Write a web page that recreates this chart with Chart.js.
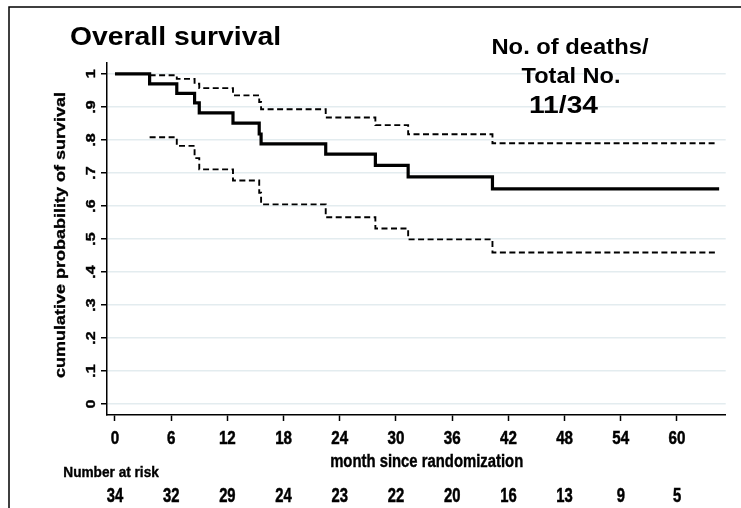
<!DOCTYPE html>
<html>
<head>
<meta charset="utf-8">
<script src="https://cdn.jsdelivr.net/npm/chart.js@4/dist/chart.umd.min.js"></script>
<style>
  html, body { margin: 0; padding: 0; background: #fff; }
  #wrap { width: 741px; height: 508px; position: relative; }
</style>
</head>
<body>
<div id="wrap"><canvas id="c" width="741" height="508"></canvas></div>
<script>
// ---- data ----
const xTicks = [0, 6, 12, 18, 24, 30, 36, 42, 48, 54, 60];
const yTicks = [0, 0.1, 0.2, 0.3, 0.4, 0.5, 0.6, 0.7, 0.8, 0.9, 1];
const yTickLabels = ['0', '.1', '.2', '.3', '.4', '.5', '.6', '.7', '.8', '.9', '1'];
const atRisk = [34, 32, 29, 24, 23, 22, 20, 16, 13, 9, 5];

const deathTimes = [3.7, 6.6, 8.5, 9.0, 12.6, 15.4, 15.6, 22.5, 27.8, 31.3, 40.3];
const survival   = [0.970, 0.941, 0.912, 0.882, 0.851, 0.818, 0.788, 0.757, 0.723, 0.688, 0.652];
const upperCI    = [0.996, 0.985, 0.970, 0.957, 0.935, 0.915, 0.893, 0.868, 0.845, 0.817, 0.790];
const lowerCI    = [0.808, 0.782, 0.745, 0.711, 0.677, 0.640, 0.605, 0.566, 0.532, 0.499, 0.459];
const lastFollowUp = 64.5;
const lastFollowUpCI = 64.3;

const titleText = 'Overall survival';
const annotLines = ['No. of deaths/', 'Total No.', '11/34'];
const xTitle = 'month since randomization';
const yTitle = 'cumulative probability of survival';
const riskTitle = 'Number at risk';

// ---- build series ----
const kmPoints = [{x: 0, y: 1}].concat(deathTimes.map((t, i) => ({x: t, y: survival[i]})));
kmPoints.push({x: lastFollowUp, y: survival[survival.length - 1]});
const upPoints = deathTimes.map((t, i) => ({x: t, y: upperCI[i]}));
upPoints.push({x: lastFollowUpCI, y: upperCI[upperCI.length - 1]});
const loPoints = deathTimes.map((t, i) => ({x: t, y: lowerCI[i]}));
loPoints.push({x: lastFollowUpCI, y: lowerCI[lowerCI.length - 1]});

const FONT = '"Liberation Sans", Arial, Helvetica, sans-serif';
function txt(ctx, s, x, y, size, sx, align, rot, heavy) {
  ctx.save();
  ctx.translate(x, y);
  ctx.scale(sx, 1);
  if (rot) ctx.rotate(rot);
  ctx.font = 'bold ' + size + 'px ' + FONT;
  ctx.textAlign = align;
  ctx.textBaseline = 'alphabetic';
  ctx.fillStyle = '#000';
  ctx.fillText(s, 0, 0);
  if (heavy) {
    ctx.strokeStyle = '#000';
    ctx.lineWidth = heavy;
    ctx.strokeText(s, 0, 0);
  }
  ctx.restore();
}

const textPlugin = {
  id: 'texts',
  afterDraw(chart) {
    const ctx = chart.ctx;
    const xs = chart.scales.x, ys = chart.scales.y;
    // outer frame (top and left visible)
    ctx.save();
    ctx.strokeStyle = '#000';
    ctx.lineWidth = 1.5;
    ctx.beginPath();
    ctx.moveTo(9, 520); ctx.lineTo(9, 7); ctx.lineTo(760, 7);
    ctx.stroke();
    ctx.restore();

    txt(ctx, titleText, 70, 45, 26, 1.09, 'left');
    txt(ctx, annotLines[0], 570, 54.3, 22, 1.08, 'center');
    txt(ctx, annotLines[1], 571, 83.3, 22, 1.07, 'center');
    txt(ctx, annotLines[2], 563.5, 113, 23.5, 1.2, 'center');

    xTicks.forEach((t, i) => {
      const px = xs.getPixelForValue(t);
      txt(ctx, String(t), px, 443.5, 18.5, 0.82, 'center', 0, 0.5);
      txt(ctx, String(atRisk[i]), px, 501.5, 20, 0.74, 'center', 0, 0.5);
    });
    yTicks.forEach((v, i) => {
      const py = ys.getPixelForValue(v);
      txt(ctx, yTickLabels[i], 95, py, 16, 0.8, 'center', -Math.PI / 2, 0.5);
    });
    txt(ctx, xTitle, 426.7, 467, 18, 0.825, 'center', 0, 0.4);
    txt(ctx, yTitle, 65, 235, 18, 0.8, 'center', -Math.PI / 2, 0.4);
    txt(ctx, riskTitle, 63.3, 476.5, 15.5, 0.88, 'left', 0, 0.4);
  }
};

new Chart(document.getElementById('c'), {
  type: 'line',
  data: {
    datasets: [
      { label: 'upper', data: upPoints, stepped: 'before', borderColor: '#000', borderWidth: 1.9,
        borderDash: [6, 3.5], pointRadius: 0, fill: false, order: 2 },
      { label: 'lower', data: loPoints, stepped: 'before', borderColor: '#000', borderWidth: 1.9,
        borderDash: [6, 3.5], pointRadius: 0, fill: false, order: 2 },
      { label: 'survival', data: kmPoints, stepped: 'before', borderColor: '#000', borderWidth: 3.2,
        pointRadius: 0, fill: false, order: 1 }
    ]
  },
  options: {
    responsive: false,
    devicePixelRatio: 1,
    animation: false,
    events: [],
    layout: { padding: { left: 101, top: 63, right: 15.3, bottom: 87 } },
    plugins: { legend: { display: false }, tooltip: { enabled: false } },
    scales: {
      x: {
        type: 'linear', min: -0.85, max: 65.2,
        afterBuildTicks: s => { s.ticks = xTicks.map(v => ({value: v})); },
        ticks: { display: false },
        grid: { drawOnChartArea: false, drawTicks: true, tickLength: 6, tickColor: '#000', tickWidth: 1.5 },
        border: { display: true, color: '#000', width: 1.5 }
      },
      y: {
        type: 'linear', min: -0.033, max: 1.033,
        afterBuildTicks: s => { s.ticks = yTicks.map(v => ({value: v})); },
        ticks: { display: false },
        grid: { drawOnChartArea: true, color: '#e3ecef', lineWidth: 1.5, drawTicks: true,
                tickLength: 6, tickColor: '#000', tickWidth: 1.5 },
        border: { display: true, color: '#000', width: 1.5 }
      }
    }
  },
  plugins: [textPlugin]
});
</script>
</body>
</html>
